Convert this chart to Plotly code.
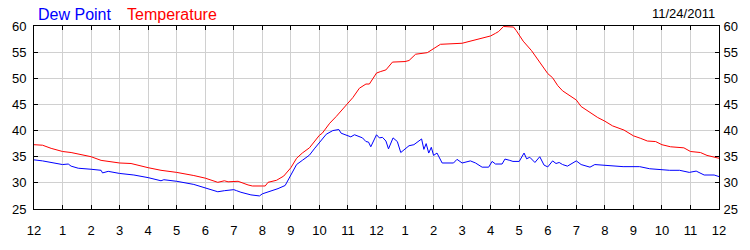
import plotly.graph_objects as go

# Hours since midnight (11/24/2011)
temp_hours = [0, 0.3, 0.6, 1.0, 1.3, 1.6, 2.0, 2.35, 3.0, 3.4, 3.6, 4.0, 4.45, 5.0, 5.6, 6.0,
              6.44, 6.67, 6.8, 7.0, 7.15, 7.5, 7.65, 8.0, 8.1, 8.2, 8.5, 8.75, 9.0, 9.2, 9.4,
              9.65, 9.82, 10.0, 10.1, 10.36, 10.59, 10.82, 11.0, 11.17, 11.4, 11.63, 11.75,
              11.86, 12.0, 12.15, 12.33, 12.56, 13.0, 13.14, 13.37, 13.78, 14.0, 14.24, 15.0,
              15.47, 16.0, 16.17, 16.28, 16.45, 16.8, 16.9, 17.0, 17.14, 17.43, 17.72, 17.9,
              18.0, 18.17, 18.35, 18.52, 18.81, 19.0, 19.17, 19.4, 19.75, 20.0, 20.27, 20.67,
              21.0, 21.26, 21.49, 21.78, 22.0, 22.3, 22.77, 23.0, 23.35, 23.58, 23.8, 24.0]
temperature = [37.3, 37.2, 36.6, 36.0, 35.8, 35.4, 35.0, 34.3, 33.8, 33.7, 33.4, 32.9, 32.4,
               32.0, 31.4, 30.9, 30.1, 30.4, 30.2, 30.25, 30.3, 29.6, 29.4, 29.4, 29.4, 30.1,
               30.5, 31.3, 32.9, 34.7, 35.7, 36.7, 37.9, 39.1, 39.5, 41.4, 42.7, 44.1, 45.15,
               46.3, 48.1, 48.9, 48.9, 49.8, 51.0, 51.3, 51.6, 53.1, 53.2, 53.4, 54.6, 54.9,
               55.6, 56.5, 56.7, 57.3, 58.1, 58.6, 58.95, 59.9, 59.8, 59.1, 58.25, 57.1, 55.3,
               53.0, 51.45, 50.9, 50.1, 48.6, 47.6, 46.6, 45.85, 44.6, 43.7, 42.5, 41.8, 40.9,
               40.1, 39.0, 38.5, 38.0, 37.9, 37.3, 36.9, 36.7, 36.0, 35.8, 35.25, 35.0, 34.7]

dew_hours = [0, 0.3, 1.0, 1.2, 1.3, 1.55, 2.0, 2.35, 2.4, 2.6, 3.0, 3.5, 4.0, 4.45, 4.55, 5.0,
             5.6, 6.0, 6.44, 6.67, 7.0, 7.1, 7.25, 7.6, 7.9, 8.0, 8.3, 8.55, 8.8, 9.0, 9.2, 9.4,
             9.65, 9.82, 10.0, 10.24, 10.47, 10.59, 10.68, 10.76, 11.0, 11.1, 11.23, 11.4, 11.51,
             11.63, 11.72, 11.8, 12.0, 12.1, 12.21, 12.33, 12.42, 12.58, 12.73, 12.85, 13.0,
             13.14, 13.31, 13.58, 13.66, 13.74, 13.83, 13.92, 14.0, 14.12, 14.3, 14.7, 14.82,
             15.0, 15.29, 15.47, 15.7, 15.93, 16.05, 16.17, 16.4, 16.5, 16.67, 16.78, 17.0,
             17.17, 17.26, 17.37, 17.55, 17.72, 17.87, 18.0, 18.17, 18.29, 18.4, 18.52, 18.69,
             19.0, 19.17, 19.4, 19.48, 19.65, 20.17, 20.64, 21.22, 21.57, 22.27, 22.62, 22.96,
             23.2, 23.48, 23.83, 24.0]
dew_point = [34.4, 34.2, 33.5, 33.6, 33.2, 32.8, 32.6, 32.4, 31.9, 32.2, 31.8, 31.5, 31.0,
             30.4, 30.6, 30.3, 29.7, 29.0, 28.3, 28.5, 28.7, 28.5, 28.2, 27.7, 27.5, 27.9,
             28.4, 28.9, 29.5, 31.5, 33.5, 34.3, 35.3, 36.5, 37.8, 39.3, 40.0, 40.2, 40.2,
             39.5, 38.9, 38.8, 39.2, 38.8, 38.6, 37.9, 37.8, 36.9, 39.2, 38.6, 38.7, 38.0,
             36.5, 38.6, 37.9, 35.8, 36.5, 37.1, 37.3, 38.4, 36.4, 37.5, 35.7, 36.8, 35.25,
             35.7, 33.8, 33.8, 34.5, 33.8, 34.2, 33.8, 33.0, 33.0, 34.1, 33.6, 33.6, 34.55,
             34.3, 34.1, 34.1, 35.7, 34.6, 34.9, 33.9, 35.0, 33.4, 33.05, 34.2, 33.7, 33.9,
             33.5, 33.2, 34.2, 33.5, 33.05, 33.0, 33.5, 33.25, 33.1, 33.1, 32.7, 32.4, 32.4,
             32.0, 32.25, 31.5, 31.5, 31.2]

tick_vals = list(range(0, 25))
tick_text = ["12", "1", "2", "3", "4", "5", "6", "7", "8", "9", "10", "11",
             "12", "1", "2", "3", "4", "5", "6", "7", "8", "9", "10", "11", "12"]
date_label = "11/24/2011"

FONT = "Liberation Sans, Arial, sans-serif"

fig = go.Figure()
fig.add_trace(go.Scatter(x=dew_hours, y=dew_point, mode="lines",
                         line=dict(color="#0000ff", width=1), name="Dew Point",
                         showlegend=False))
fig.add_trace(go.Scatter(x=temp_hours, y=temperature, mode="lines",
                         line=dict(color="#ff0000", width=1), name="Temperature",
                         showlegend=False))
# invisible trace to activate label axes (bottom hour labels, right-hand values)
fig.add_trace(go.Scatter(x=temp_hours, y=temperature, mode="lines",
                         xaxis="x2", yaxis="y2",
                         line=dict(width=0), opacity=0, hoverinfo="skip",
                         showlegend=False))

axis_common = dict(
    showline=True, linecolor="black", linewidth=1,
    ticks="inside", ticklen=4, tickcolor="black", tickwidth=1,
    tickfont=dict(family=FONT, size=13, color="black"),
    zeroline=False,
)

fig.update_layout(
    width=750, height=250,
    margin=dict(l=31, r=30, t=26, b=25, pad=0),
    paper_bgcolor="white", plot_bgcolor="white",
    font=dict(family=FONT, size=13, color="black"),
    xaxis=dict(range=[0, 24], tickvals=tick_vals, ticktext=tick_text,
               showgrid=True, gridcolor="#d0d0d0", gridwidth=1,
               mirror="allticks", showticklabels=False, **axis_common),
    xaxis2=dict(range=[0, 24], tickvals=tick_vals, ticktext=tick_text,
                overlaying="x", side="bottom", showgrid=False, showline=False,
                zeroline=False, ticks="outside", ticklen=9,
                tickcolor="rgba(0,0,0,0)",
                tickfont=dict(family=FONT, size=13, color="black")),
    yaxis=dict(range=[25, 60], dtick=5, tick0=25,
               showgrid=True, gridcolor="#d0d0d0", gridwidth=1,
               mirror="allticks", ticklabelstandoff=4, **axis_common),
    yaxis2=dict(range=[25, 60], dtick=5, tick0=25, overlaying="y", side="right",
                showgrid=False, ticklabelstandoff=1, **axis_common),
    annotations=[
        dict(text="Dew Point", xref="paper", yref="paper", x=2/689, y=1 + 13/199,
             xanchor="left", yanchor="middle", showarrow=False,
             font=dict(family=FONT, size=16, color="#0000ff")),
        dict(text="Temperature", xref="paper", yref="paper", x=92/689, y=1 + 13/199,
             xanchor="left", yanchor="middle", showarrow=False,
             font=dict(family=FONT, size=16, color="#ff0000")),
        dict(text=date_label, xref="paper", yref="paper", x=687/689, y=1 + 14/199,
             xanchor="right", yanchor="middle", showarrow=False,
             font=dict(family=FONT, size=13, color="black")),
    ],
)

fig.write_html("out.html")
